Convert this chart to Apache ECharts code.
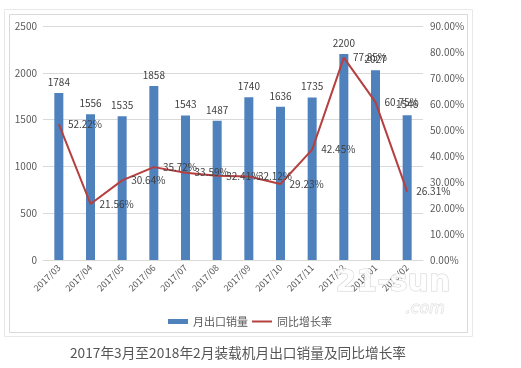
<!DOCTYPE html>
<html><head><meta charset="utf-8">
<script src="https://cdn.jsdelivr.net/npm/echarts@6/dist/echarts.min.js"></script>
<style>html,body{margin:0;padding:0;background:#fff}#c{width:521px;height:368px}</style>
</head><body><div id="c"></div>
<script>
const categories = ['2017/03','2017/04','2017/05','2017/06','2017/07','2017/08','2017/09','2017/10','2017/11','2017/12','2018/01','2018/02'];
const sales = [1784,1556,1535,1858,1543,1487,1740,1636,1735,2200,2027,1546];
const growth = [52.22,21.56,30.64,35.72,33.59,32.41,32.12,29.23,42.45,77.85,60.75,26.31];
const leftTicks = {min:0,max:2500,interval:500};
const rightTicks = {min:0,max:90,interval:10};
const seriesNames = ['月出口销量','同比增长率'];
const titleText = '2017年3月至2018年2月装载机月出口销量及同比增长率';

const chart = echarts.init(document.getElementById('c'));
const font = '"Noto Sans CJK SC", "Noto Sans", sans-serif';
chart.setOption({
  animation:false,
  textStyle:{fontFamily:font},
  graphic:[
    {type:'rect',shape:{x:4.5,y:9.5,width:468,height:327},style:{fill:'none',stroke:'#e8e8e8',lineWidth:1},z:-10},
    {type:'rect',shape:{x:9.5,y:14.5,width:458,height:318},style:{fill:'#fff',stroke:'#d9d9d9',lineWidth:1},z:-9},
    {type:'text',left:70,top:346,style:{text:titleText,fontSize:13.7,fill:'#555',fontFamily:font}},
    {type:'text',left:335,top:268,style:{text:'21-sun',fontSize:30,fontWeight:'bold',fill:'rgba(255,255,255,0.85)',stroke:'rgba(180,180,180,0.6)',lineWidth:1,fontFamily:'DejaVu Sans'},z:100},
    {type:'text',left:405,top:300,style:{text:'.com',fontSize:16,fontStyle:'italic',fill:'rgba(255,255,255,0.8)',stroke:'rgba(190,190,190,0.6)',lineWidth:1,fontFamily:'DejaVu Sans'},z:100}
  ],
  legend:{
    data:[{name:seriesNames[0],icon:'rect'},{name:seriesNames[1],icon:'path://M0,0H20V2H0Z'}],
    left:163, top:311, itemWidth:20, itemHeight:5, itemGap:4,
    textStyle:{fontSize:11,color:'#595959',fontFamily:font}
  },
  grid:{left:43,right:98,top:26,bottom:108},
  xAxis:{
    type:'category',data:categories,
    axisLine:{lineStyle:{color:'#d9d9d9'}},axisTick:{show:false},
    axisLabel:{rotate:45,fontSize:9,color:'#595959',margin:6,interval:0}
  },
  yAxis:[
    {type:'value',min:leftTicks.min,max:leftTicks.max,interval:leftTicks.interval,
     axisLine:{show:false},axisTick:{show:false},
     axisLabel:{fontSize:10,color:'#595959',margin:6,formatter:v=>String(v)},
     splitLine:{lineStyle:{color:'#d9d9d9'}}},
    {type:'value',min:rightTicks.min,max:rightTicks.max,interval:rightTicks.interval,
     axisLine:{show:false},axisTick:{show:false},
     axisLabel:{fontSize:10,color:'#595959',margin:7,formatter:v=>v.toFixed(2)+'%'},
     splitLine:{show:false}}
  ],
  series:[
    {name:seriesNames[0],type:'bar',data:sales,barWidth:9,
     itemStyle:{color:'#4f81bd'},
     label:{show:true,position:'top',distance:6,fontSize:10,color:'#404040'}},
    {name:seriesNames[1],type:'line',yAxisIndex:1,data:growth,
     symbol:'circle',symbolSize:0.1,showSymbol:true,
     lineStyle:{color:'#b5403f',width:2},itemStyle:{color:'#b5403f'},
     labelLayout:{hideOverlap:false},
     label:{show:true,position:'right',distance:9,fontSize:10,color:'#404040',formatter:p=>p.value.toFixed(2)+'%'}}
  ]
});
</script></body></html>
